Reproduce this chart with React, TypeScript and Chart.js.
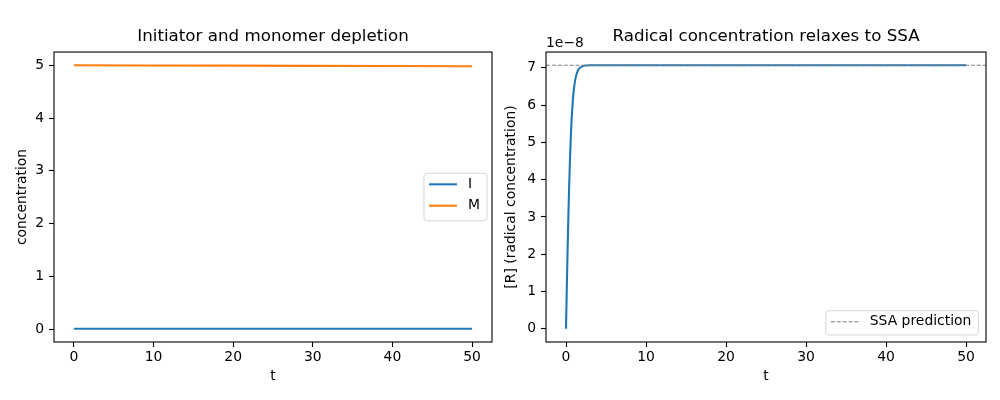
import { useEffect, useRef } from 'react';
import { Chart, registerables } from 'chart.js';

Chart.register(...registerables);

// left panel: initiator and monomer vs time
const timeLeft = [0, 10, 20, 30, 40, 50];
const initiator = [0.01, 0.0098, 0.0096, 0.0094, 0.0092, 0.009];
const monomer = [5.0, 4.996, 4.992, 4.988, 4.984, 4.98];

// right panel: radical concentration vs time
const timeRight = [0, 0.1, 0.2, 0.3, 0.4, 0.5, 0.6, 0.7, 0.8, 0.9, 1.0, 1.2, 1.4, 1.6, 1.8, 2.0, 2.5, 3.0, 5, 10, 20, 30, 40, 50];
const radical = [
  0, 1.08e-8, 2.11e-8, 3.05e-8, 3.87e-8, 4.57e-8, 5.14e-8, 5.6e-8, 5.96e-8, 6.24e-8, 6.45e-8,
  6.73e-8, 6.88e-8, 6.97e-8, 7.01e-8, 7.04e-8, 7.065e-8, 7.07e-8, 7.07e-8, 7.07e-8, 7.07e-8,
  7.07e-8, 7.07e-8, 7.07e-8,
];
const ssaValue = 7.07e-8;

// tick labels
const xTicks = [0, 10, 20, 30, 40, 50];
const yTicksLeft = [0, 1, 2, 3, 4, 5];
const yTicksRight = [0, 1, 2, 3, 4, 5, 6, 7]; // in units of 1e-8

const FONT = '"DejaVu Sans", "Liberation Sans", sans-serif';
const BLUE = '#1f77b4';
const ORANGE = '#ff7f0e';

// matplotlib-like 5% margins
function padRange(lo: number, hi: number) {
  const m = (hi - lo) * 0.05;
  return [lo - m, hi + m];
}

// full frame around the plot area (all four spines)
const framePlugin = {
  id: 'frame',
  afterDraw(chart: any) {
    const { ctx, chartArea: a } = chart;
    ctx.save();
    ctx.strokeStyle = '#000';
    ctx.lineWidth = 1.1;
    ctx.strokeRect(a.left, a.top, a.right - a.left, a.bottom - a.top);
    ctx.restore();
  },
};

// "1e-8" offset label above the y axis
const offsetTextPlugin = {
  id: 'offsetText',
  afterDraw(chart: any, _args: any, opts: any) {
    if (!opts || !opts.text) return;
    const { ctx, chartArea: a } = chart;
    ctx.save();
    ctx.font = `13.9px ${FONT}`;
    ctx.fillStyle = '#000';
    ctx.textAlign = 'left';
    ctx.textBaseline = 'alphabetic';
    ctx.fillText(opts.text, a.left, a.top - 5);
    ctx.restore();
  },
};

// matplotlib style legend box drawn inside the axes
const boxLegendPlugin = {
  id: 'boxLegend',
  afterDraw(chart: any, _args: any, opts: any) {
    if (!opts || !opts.items) return;
    const { ctx, chartArea: a } = chart;
    const items = opts.items as { label: string; color: string; width: number; dash: number[] }[];
    ctx.save();
    ctx.font = `13.9px ${FONT}`;
    const textW = Math.max(...items.map((it) => ctx.measureText(it.label).width));
    const w = 44 + textW + 7;
    const h = 24.3 + (items.length - 1) * 23.1;
    const right = a.right - opts.insetX;
    const left = right - w;
    let top: number;
    if (opts.loc === 'lower right') top = a.bottom - opts.insetY - h;
    else top = (a.top + a.bottom) / 2 - h / 2;

    const r = 2.8;
    ctx.beginPath();
    ctx.moveTo(left + r, top);
    ctx.lineTo(left + w - r, top);
    ctx.arcTo(left + w, top, left + w, top + r, r);
    ctx.lineTo(left + w, top + h - r);
    ctx.arcTo(left + w, top + h, left + w - r, top + h, r);
    ctx.lineTo(left + r, top + h);
    ctx.arcTo(left, top + h, left, top + h - r, r);
    ctx.lineTo(left, top + r);
    ctx.arcTo(left, top, left + r, top, r);
    ctx.closePath();
    ctx.fillStyle = 'rgba(255,255,255,0.8)';
    ctx.fill();
    ctx.strokeStyle = 'rgba(204,204,204,0.8)';
    ctx.lineWidth = 1;
    ctx.stroke();

    items.forEach((it, i) => {
      const y = top + 11 + i * 21.4;
      ctx.beginPath();
      ctx.setLineDash(it.dash);
      ctx.strokeStyle = it.color;
      ctx.lineWidth = it.width;
      ctx.moveTo(left + 5, y);
      ctx.lineTo(left + 33, y);
      ctx.stroke();
      ctx.setLineDash([]);
      ctx.fillStyle = '#000';
      ctx.textAlign = 'left';
      ctx.textBaseline = 'middle';
      ctx.fillText(it.label, left + 44, y);
    });
    ctx.restore();
  },
};

function axisBase(width: number) {
  return {
    border: { display: false },
    grid: {
      display: true,
      drawOnChartArea: false,
      drawTicks: true,
      tickLength: 5,
      tickWidth: 1.1,
      tickColor: '#000',
    },
    afterFit: (s: any) => {
      s.width = width;
    },
  };
}

function xAxis(min: number, max: number) {
  return {
    type: 'linear' as const,
    min,
    max,
    border: { display: false },
    grid: {
      display: true,
      drawOnChartArea: false,
      drawTicks: true,
      tickLength: 5,
      tickWidth: 1.1,
      tickColor: '#000',
    },
    afterBuildTicks: (s: any) => {
      s.ticks = xTicks.map((v) => ({ value: v }));
    },
    afterFit: (s: any) => {
      s.height = 58;
    },
    ticks: {
      color: '#000',
      padding: 2,
      maxRotation: 0,
      font: { family: FONT, size: 13.9 },
    },
    title: {
      display: true,
      text: 't',
      color: '#000',
      font: { family: FONT, size: 13.9 },
      padding: { top: 0, bottom: 15.6 },
    },
  };
}

function titleOpts(text: string) {
  return {
    display: true,
    text,
    color: '#000',
    fullSize: false,
    font: { family: FONT, size: 16.7, weight: 'normal' as const },
    padding: { top: 27, bottom: 5 },
  };
}

function LeftChart() {
  const ref = useRef<HTMLCanvasElement>(null);

  useEffect(() => {
    if (!ref.current) return;
    const [xMin, xMax] = padRange(Math.min(...timeLeft), Math.max(...timeLeft));
    const [yMin, yMax] = padRange(Math.min(...initiator, ...monomer), Math.max(...initiator, ...monomer));

    const chart = new Chart(ref.current, {
      type: 'line',
      data: {
        datasets: [
          {
            label: 'I',
            data: timeLeft.map((t, i) => ({ x: t, y: initiator[i] })),
            borderColor: BLUE,
            borderWidth: 2.08,
            pointRadius: 0,
            order: 1,
          },
          {
            label: 'M',
            data: timeLeft.map((t, i) => ({ x: t, y: monomer[i] })),
            borderColor: ORANGE,
            borderWidth: 2.08,
            pointRadius: 0,
            order: 0,
          },
        ],
      },
      options: {
        animation: false,
        responsive: true,
        maintainAspectRatio: false,
        layout: { padding: { left: 0, right: 8, top: 0, bottom: 0 } },
        scales: {
          x: xAxis(xMin, xMax),
          y: {
            type: 'linear',
            min: yMin,
            max: yMax,
            ...axisBase(54),
            afterBuildTicks: (s: any) => {
              s.ticks = yTicksLeft.map((v) => ({ value: v }));
            },
            ticks: {
              color: '#000',
              padding: 5,
              font: { family: FONT, size: 13.9 },
            },
            title: {
              display: true,
              text: 'concentration',
              color: '#000',
              font: { family: FONT, size: 13.9 },
              padding: { top: 13.7, bottom: 0 },
            },
          },
        },
        plugins: {
          legend: { display: false },
          tooltip: { enabled: false },
          title: titleOpts('Initiator and monomer depletion'),
          // @ts-ignore
          boxLegend: {
            loc: 'center right',
            insetX: 5,
            insetY: 7,
            items: [
              { label: 'I', color: BLUE, width: 2.08, dash: [] },
              { label: 'M', color: ORANGE, width: 2.08, dash: [] },
            ],
          },
        },
      },
      plugins: [framePlugin, boxLegendPlugin],
    });

    return () => chart.destroy();
  }, []);

  return <canvas ref={ref} />;
}

function RightChart() {
  const ref = useRef<HTMLCanvasElement>(null);

  useEffect(() => {
    if (!ref.current) return;
    const [xMin, xMax] = padRange(Math.min(...timeRight), Math.max(...timeRight));
    const [yMin, yMax] = padRange(Math.min(...radical, ssaValue), Math.max(...radical, ssaValue));

    const chart = new Chart(ref.current, {
      type: 'line',
      data: {
        datasets: [
          {
            label: 'SSA prediction',
            data: [
              { x: xMin, y: ssaValue },
              { x: xMax, y: ssaValue },
            ],
            borderColor: 'rgba(128,128,128,1)',
            borderWidth: 1.1,
            borderDash: [4.1, 1.8],
            pointRadius: 0,
            order: 0,
          },
          {
            label: 'R',
            data: timeRight.map((t, i) => ({ x: t, y: radical[i] })),
            borderColor: BLUE,
            borderWidth: 2.08,
            pointRadius: 0,
            cubicInterpolationMode: 'monotone',
            order: 1,
          },
        ],
      },
      options: {
        animation: false,
        responsive: true,
        maintainAspectRatio: false,
        layout: { padding: { left: 0, right: 14, top: 0, bottom: 0 } },
        scales: {
          x: xAxis(xMin, xMax),
          y: {
            type: 'linear',
            min: yMin,
            max: yMax,
            ...axisBase(46),
            afterBuildTicks: (s: any) => {
              s.ticks = yTicksRight.map((v) => ({ value: v * 1e-8 }));
            },
            ticks: {
              color: '#000',
              padding: 5,
              font: { family: FONT, size: 13.9 },
              callback: (v: any) => String(Math.round(Number(v) / 1e-8)),
            },
            title: {
              display: true,
              text: '[R] (radical concentration)',
              color: '#000',
              font: { family: FONT, size: 13.9 },
              padding: { top: 3.2, bottom: 0 },
            },
          },
        },
        plugins: {
          legend: { display: false },
          tooltip: { enabled: false },
          title: titleOpts('Radical concentration relaxes to SSA'),
          // @ts-ignore
          offsetText: { text: '1e\u22128' },
          // @ts-ignore
          boxLegend: {
            loc: 'lower right',
            insetX: 7.7,
            insetY: 7,
            items: [{ label: 'SSA prediction', color: 'rgba(128,128,128,1)', width: 1.1, dash: [4.1, 1.8] }],
          },
        },
      },
      plugins: [framePlugin, offsetTextPlugin, boxLegendPlugin],
    });

    return () => chart.destroy();
  }, []);

  return <canvas ref={ref} />;
}

export default function App() {
  return (
    <div style={{ position: 'absolute', left: 0, top: 0, width: 1000, height: 400, background: '#fff' }}>
      <div style={{ position: 'absolute', left: 0, top: 0, width: 500, height: 400 }}>
        <LeftChart />
      </div>
      <div style={{ position: 'absolute', left: 500, top: 0, width: 500, height: 400 }}>
        <RightChart />
      </div>
    </div>
  );
}
